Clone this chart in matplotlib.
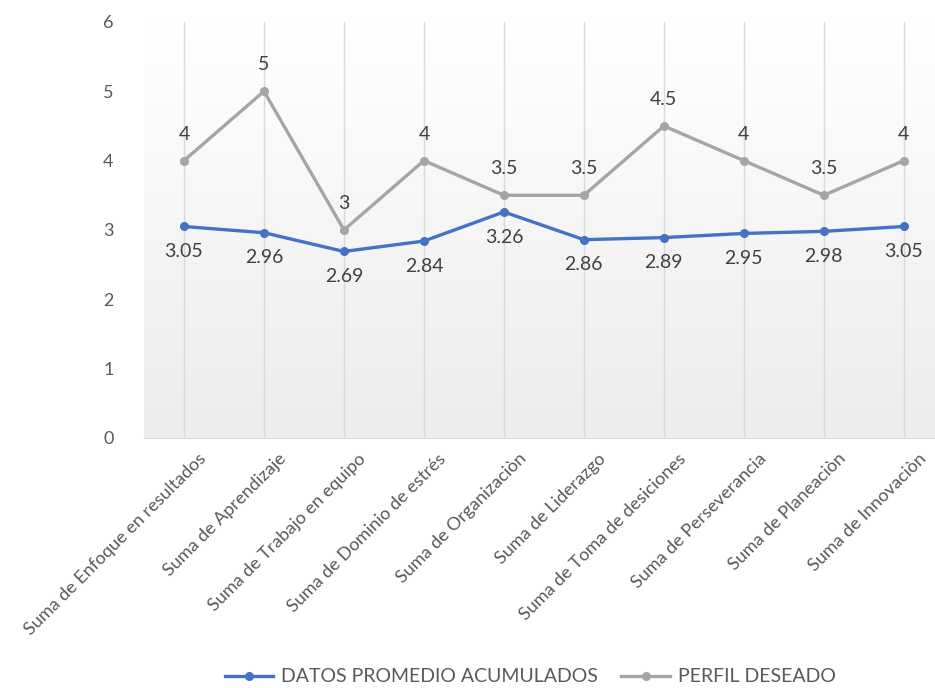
import numpy as np
import matplotlib
matplotlib.use("Agg")
import matplotlib.pyplot as plt
import matplotlib.transforms as mtransforms

plt.rcParams['font.family'] = ['Lato', 'DejaVu Sans']

categorias = [
    "Suma de Enfoque en resultados",
    "Suma de Aprendizaje",
    "Suma de Trabajo en equipo",
    "Suma de Dominio de estrés",
    "Suma de Organizaciòn",
    "Suma de Liderazgo",
    "Suma de Toma de desiciones",
    "Suma de Perseverancia",
    "Suma de Planeaciòn",
    "Suma de Innovaciòn",
]
datos_promedio = [3.05, 2.96, 2.69, 2.84, 3.26, 2.86, 2.89, 2.95, 2.98, 3.05]
perfil_deseado = [4, 5, 3, 4, 3.5, 3.5, 4.5, 4, 3.5, 4]

AZUL = "#4472C4"
GRIS = "#A5A5A5"
TEXTO = "#595959"

fig = plt.figure(figsize=(9.35, 6.88), dpi=100)
ax = fig.add_axes([0.154, 0.3634, 0.846, 0.6047])

x = np.arange(len(categorias))
ax.set_xlim(-0.5, 9.39)
ax.set_ylim(0, 6)

# fondo degradado del area de trazado
grad = np.linspace(0, 1, 256).reshape(-1, 1)
ax.imshow(grad, extent=[-0.5, 9.39, 0, 6], aspect='auto', origin='upper',
          cmap=matplotlib.colors.LinearSegmentedColormap.from_list('g', ['#ffffff', '#ececec']),
          zorder=0)

for xi in x:
    ax.axvline(xi, color='#d9d9d9', lw=1, zorder=1)

ax.plot(x, datos_promedio, color=AZUL, lw=2.4, marker='o', markersize=5.5,
        label="DATOS PROMEDIO ACUMULADOS", zorder=3)
ax.plot(x, perfil_deseado, color=GRIS, lw=2.4, marker='o', markersize=5.5,
        label="PERFIL DESEADO", zorder=3)

for xi, v in zip(x, perfil_deseado):
    ax.annotate(f"{v:g}", (xi, v), xytext=(0, 13), textcoords='offset points',
                ha='center', va='bottom', fontsize=14, color='#404040')
for xi, v in zip(x, datos_promedio):
    ax.annotate(f"{v:.2f}", (xi, v), xytext=(0, -12), textcoords='offset points',
                ha='center', va='top', fontsize=14, color='#404040')

for s in ['top', 'right', 'left']:
    ax.spines[s].set_visible(False)
ax.spines['bottom'].set_color('#d9d9d9')

ax.set_yticks(range(0, 7))
ax.tick_params(axis='y', length=0, labelsize=13, labelcolor=TEXTO, pad=22)
ax.set_xticks(x)
ax.set_xticklabels(categorias, rotation=45, ha='right', rotation_mode='anchor',
                   fontsize=13, color=TEXTO)
ax.tick_params(axis='x', length=0, pad=9)
desplaza = mtransforms.ScaledTranslation(14 / 100, 0, fig.dpi_scale_trans)
for lbl in ax.get_xticklabels():
    lbl.set_transform(lbl.get_transform() + desplaza)

fig.legend(loc='center', bbox_to_anchor=(0.567, 0.016), ncol=2, frameon=False,
           fontsize=14, labelcolor=TEXTO, handlelength=2.5, columnspacing=1.2,
           handletextpad=0.4)

fig.savefig("out.png", dpi=100, facecolor='white')
